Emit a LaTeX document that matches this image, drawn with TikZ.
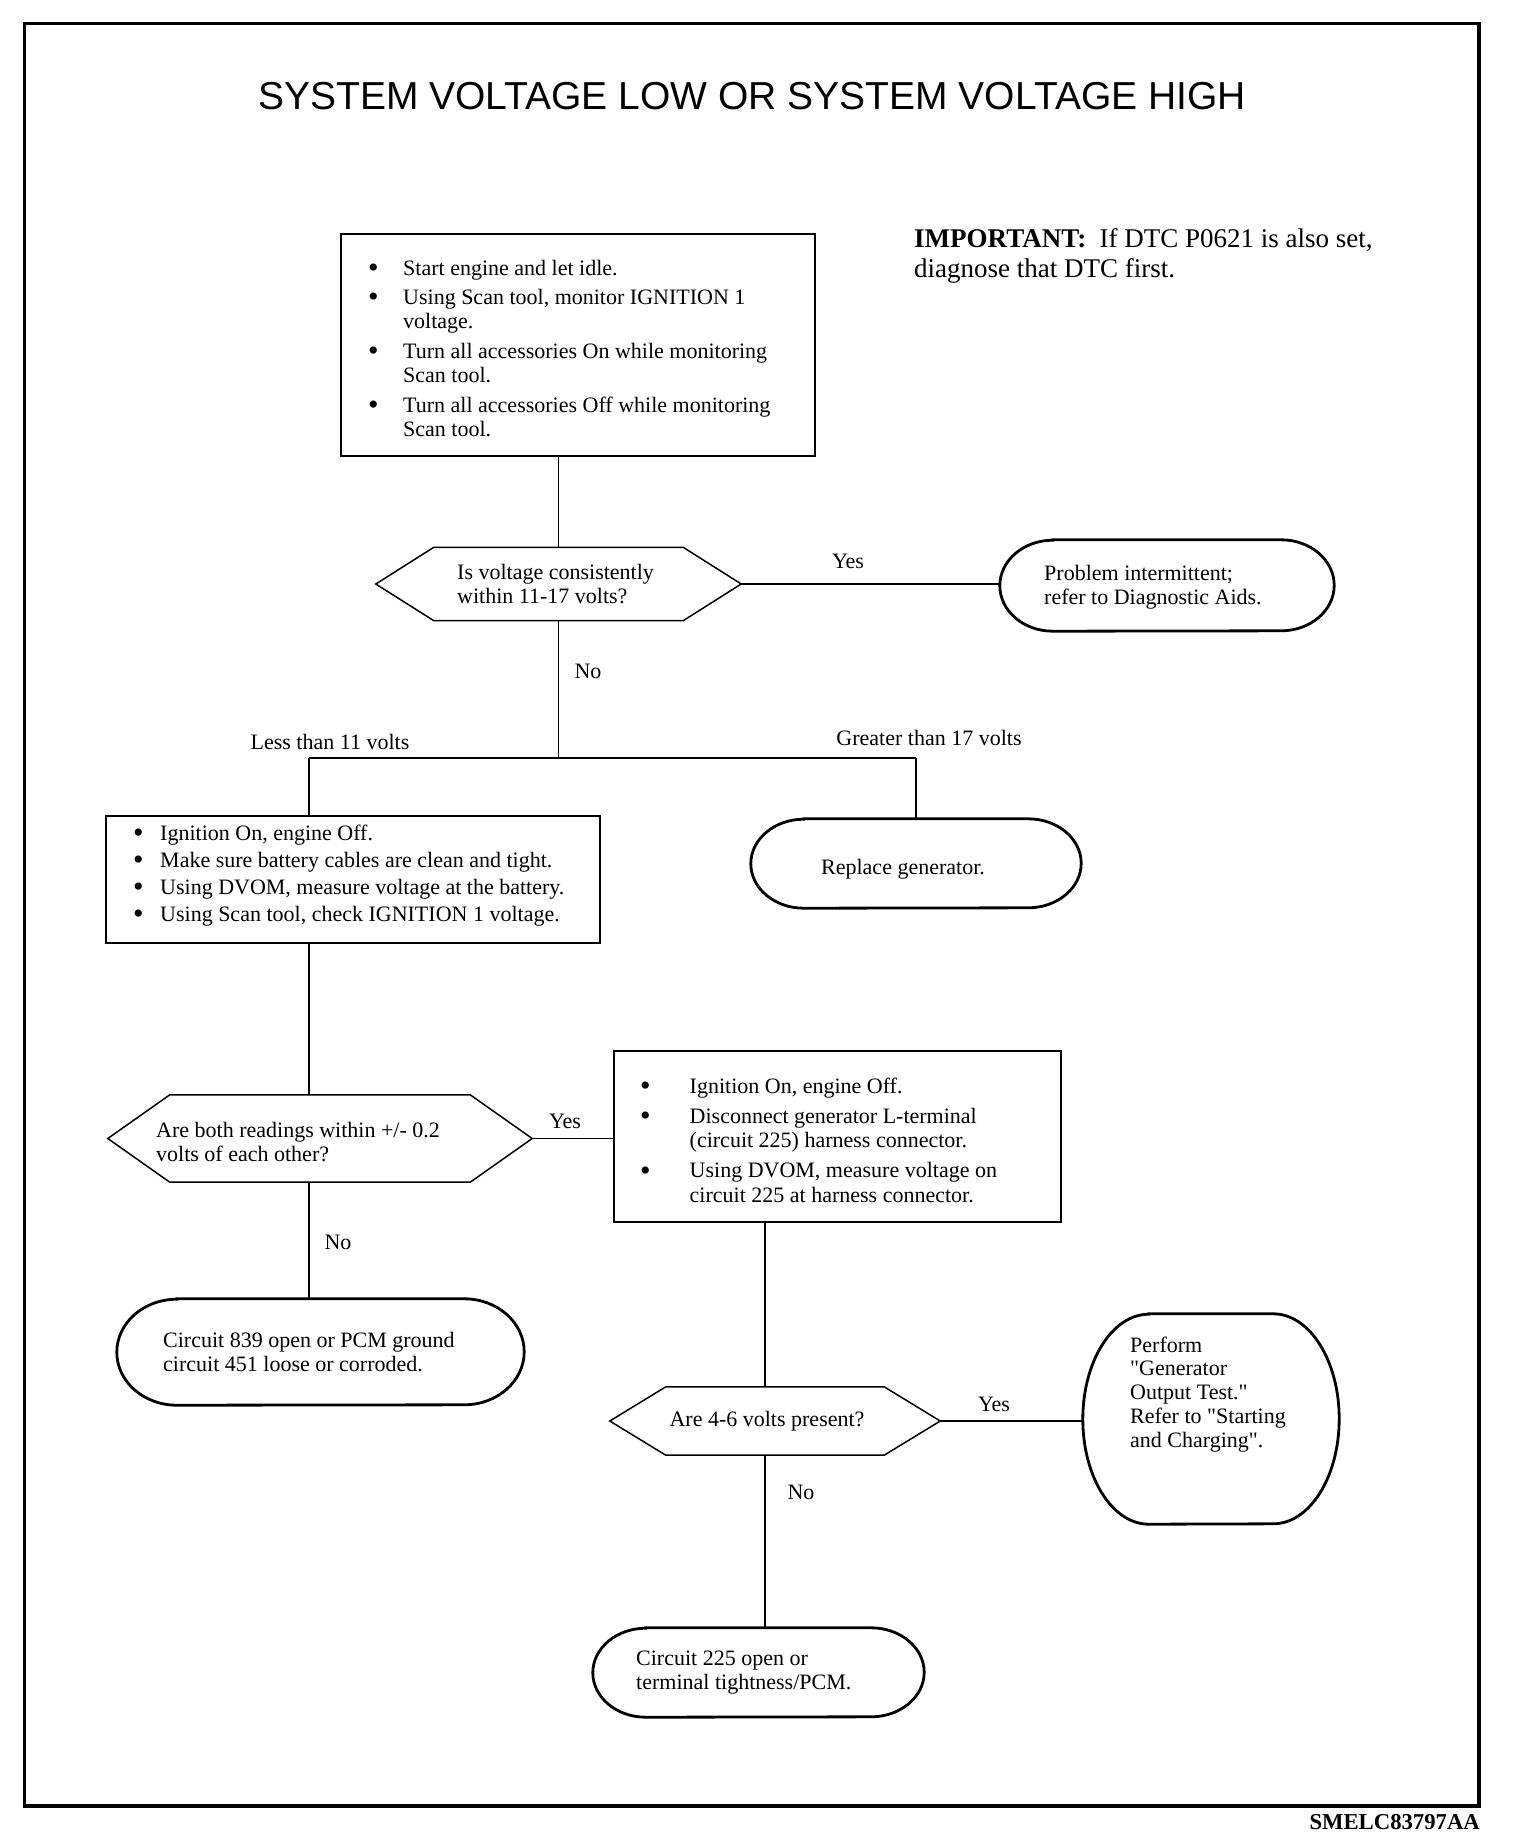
\documentclass[tikz,border=0pt]{standalone}
\usepackage{fontspec}
\setmainfont{Liberation Serif}
\newfontfamily\titlefont{Liberation Sans}
\newfontfamily\qfont{Liberation Serif}
\usetikzlibrary{calc}
\newcommand\hexa[2]{%
  \draw[shapeline] ([xshift=#2pt]#1.north west) -- ([xshift=-#2pt]#1.north east) -- (#1.east) -- ([xshift=-#2pt]#1.south east) -- ([xshift=#2pt]#1.south west) -- (#1.west) -- cycle;}
\newcommand\termo[3]{%
  \draw[termline] ([xshift=#2pt]#1.north west) -- ([xshift=-#2pt]#1.north east) arc[start angle=90,end angle=-90,x radius=#2pt,y radius=#3pt] -- ([xshift=#2pt]#1.south west) arc[start angle=270,end angle=90,x radius=#2pt,y radius=#3pt] -- cycle;}
\newcommand\bl[2]{\begin{tabular}[t]{@{}p{#1}@{}l@{}}#2\end{tabular}}
\newcommand\ml[1]{\begin{tabular}[t]{@{}l@{}}#1\end{tabular}}
\newcommand\bu{\raisebox{-2.5pt}{\fontsize{30}{24}\selectfont •}}
\newcommand\qq{{\qfont\symbol{34}}}
\tikzset{
  shapeline/.style={line width=1.5pt},
  termline/.style={line width=2.8pt},
  conn/.style={line width=1.5pt},
  boxn/.style={draw, line width=1.5pt, rectangle, inner sep=0pt},
  shp/.style={rectangle, inner sep=0pt},
  txt/.style={inner sep=0pt, anchor=base west, font=\fontsize{22}{24.5}\selectfont},
  lbl/.style={inner sep=0pt, anchor=center, font=\fontsize{22}{24.5}\selectfont},
}
\begin{document}
\begin{tikzpicture}[x=1pt,y=-1pt]
\useasboundingbox (0,0) rectangle (1520,1842);
% frame
\coordinate (fTL) at (24,23);
\coordinate (fBR) at (1479,1806);
\draw[line width=3pt] (fTL) rectangle (fBR);
\draw[line width=4.5pt] (fBR |- fTL) -- (fBR) -- (fBR -| fTL);
% title
\node[inner sep=0pt, font=\titlefont\fontsize{39}{45}\selectfont] (title) at (752,96) {SYSTEM VOLTAGE LOW OR SYSTEM VOLTAGE HIGH};
% important note
\node[inner sep=0pt, anchor=base west, font=\fontsize{27}{30}\selectfont] (imp) at (914,247)
  {\ml{\textbf{IMPORTANT:}\ \ If DTC P0621 is also set,\\ diagnose that DTC first.}};

% shapes
\node[boxn, minimum width=474pt, minimum height=222pt] (b1) at (578,345) {};
\node[shp, minimum width=365pt, minimum height=73pt] (d1) at (558.5,584) {}; \hexa{d1}{58}
\node[shp, minimum width=334pt, minimum height=91pt] (r1) at (1167,585.5) {}; \termo{r1}{53}{45.5}
\node[boxn, minimum width=494pt, minimum height=127pt] (b2) at (353,879.5) {};
\node[shp, minimum width=330pt, minimum height=89pt] (r2) at (916,863.5) {}; \termo{r2}{53}{44.5}
\node[shp, minimum width=424pt, minimum height=87pt] (d2) at (320,1138.5) {}; \hexa{d2}{62}
\node[boxn, minimum width=447pt, minimum height=171pt] (b3) at (837.5,1136.5) {};
\node[shp, minimum width=407pt, minimum height=106pt] (r3) at (320.5,1352) {}; \termo{r3}{60}{53}
\node[shp, minimum width=330pt, minimum height=68pt] (d3) at (775,1421) {}; \hexa{d3}{56}
\node[shp, minimum width=256pt, minimum height=210pt] (r4) at (1211,1419) {}; \termo{r4}{66}{105}
\node[shp, minimum width=331pt, minimum height=89pt] (r5) at (758.5,1672.5) {}; \termo{r5}{53}{44.5}

% texts
\node[txt] (b1t) at (368,275) {\bl{35pt}{%
  \bu & Start engine and let idle.\\[4.9pt]
  \bu & Using Scan tool, monitor IGNITION 1\\
    & voltage.\\[4.9pt]
  \bu & Turn all accessories On while monitoring\\
    & Scan tool.\\[4.9pt]
  \bu & Turn all accessories Off while monitoring\\
    & Scan tool.}};
\node[txt] (d1t) at (457,579) {\ml{Is voltage consistently\\ within 11-17 volts?}};
\node[txt] (r1t) at (1044,580) {\ml{Problem intermittent;\\ refer to Diagnostic Aids.}};
\node[txt] (b2t) at (133,840) {\bl{27pt}{%
  \bu & Ignition On, engine Off.\\[2.5pt]
  \bu & Make sure battery cables are clean and tight.\\[2.5pt]
  \bu & Using DVOM, measure voltage at the battery.\\[2.5pt]
  \bu & Using Scan tool, check IGNITION 1 voltage.}};
\node[lbl] (r2t) at (903,869) {Replace generator.};
\node[txt] (d2t) at (156,1137) {\ml{Are both readings within +/- 0.2\\ volts of each other?}};
\node[txt] (b3t) at (640,1093) {\bl{49.5pt}{%
  \bu & Ignition On, engine Off.\\[5.5pt]
  \bu & Disconnect generator L-terminal\\
    & (circuit 225) harness connector.\\[5.5pt]
  \bu & Using DVOM, measure voltage on\\
    & circuit 225 at harness connector.}};
\node[txt] (r3t) at (163,1347) {\ml{Circuit 839 open or PCM ground\\ circuit 451 loose or corroded.}};
\node[lbl] (d3t) at (767,1421) {Are 4-6 volts present?};
\node[txt, font=\fontsize{22}{23.75}\selectfont] (r4t) at (1130,1352) {\ml{Perform\\ \qq Generator\\ Output Test.\qq\\ Refer to \qq Starting\\ and Charging\qq.}};
\node[txt] (r5t) at (636,1665) {\ml{Circuit 225 open or\\ terminal tightness/PCM.}};

% connectors
\coordinate (jL) at (309,758);
\coordinate (jR) at (916,758);
\coordinate (k3) at (765,1300);
\draw[conn] (b1.south -| d1.north) -- (d1.north);
\draw[conn] (d1.east) -- (d1.east -| r1.west);
\draw[conn] (d1.south) -- (d1.south |- jL);
\draw[conn] (jL) -- (jR);
\draw[conn] (jL) -- (jL |- b2.north);
\draw[conn] (jR) -- (r2.north);
\draw[conn] (b2.south -| jL) -- (d2.north -| jL);
\draw[conn] (d2.east) -- (d2.east -| b3.west);
\draw[conn] (d2.south -| jL) -- (r3.north -| jL);
\draw[conn] (b3.south -| k3) -- (d3.north -| k3);
\draw[conn] (d3.east) -- (d3.east -| r4.west);
\draw[conn] (d3.south -| k3) -- (r5.north -| k3);

% connector labels
\node[lbl] (y1) at (848,561) {Yes};
\node[lbl] (n1) at (588,671) {No};
\node[lbl] (lt) at (330,742) {Less than 11 volts};
\node[lbl] (gt) at (929,738) {Greater than 17 volts};
\node[lbl] (y2) at (565,1121) {Yes};
\node[lbl] (n2) at (338,1242) {No};
\node[lbl] (y3) at (994,1404) {Yes};
\node[lbl] (n3) at (801,1492) {No};

% footer
\node[inner sep=0pt, anchor=base east, font=\bfseries\fontsize{22.7}{26}\selectfont] (code) at (1480,1829.5) {SMELC83797AA};
\end{tikzpicture}
\end{document}
